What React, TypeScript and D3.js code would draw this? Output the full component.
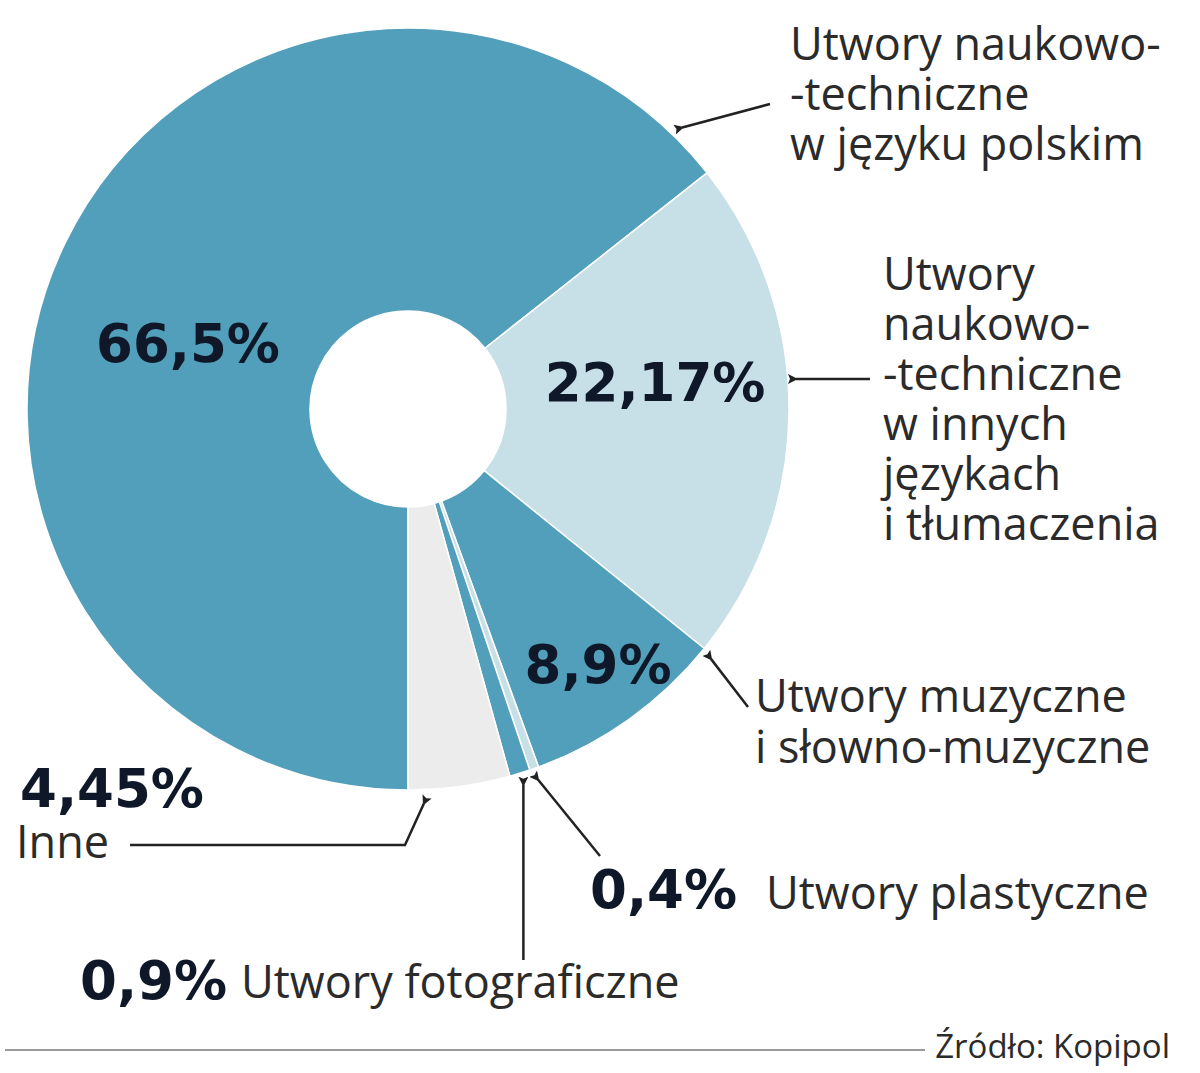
import { useEffect, useRef } from 'react'
import * as d3 from 'd3'

// shares in percent, clockwise from 6 o'clock
const categories = [
  'Utwory naukowo-techniczne w języku polskim',
  'Utwory naukowo-techniczne w innych językach i tłumaczenia',
  'Utwory muzyczne i słowno-muzyczne',
  'Utwory plastyczne',
  'Utwory fotograficzne',
  'Inne',
]
const values = [66.5, 22.17, 8.9, 0.4, 0.9, 4.45]
const valueLabels = ['66,5%', '22,17%', '8,9%', '0,4%', '0,9%', '4,45%']
const colors = ['#529fbb', '#c7dfe7', '#529fbb', '#c7dfe7', '#529fbb', '#ececec']

const W = 1200
const H = 1073

export default function App() {
  const svgRef = useRef<SVGSVGElement>(null)

  useEffect(() => {
    if (!svgRef.current) return
    const svg = d3.select(svgRef.current)
    svg.selectAll('*').remove()

    const cx = 408
    const cy = 409
    const outerR = 381
    const innerR = 98

    const labelFont = '"Open Sans", Roboto, sans-serif'
    const numFont = '"DejaVu Sans", sans-serif'
    const ink = '#2b2b2b'
    const navy = '#0e1828'
    const labelSize = 45
    const numSize = 53

    const defs = svg.append('defs')
    defs.append('marker')
      .attr('id', 'tip')
      .attr('viewBox', '0 0 10 10')
      .attr('refX', 2)
      .attr('refY', 5)
      .attr('markerWidth', 4)
      .attr('markerHeight', 4)
      .attr('orient', 'auto-start-reverse')
      .append('path')
      .attr('d', 'M0,5 L10,0 L8,5 L10,10 Z')
      .attr('fill', '#222')

    const pie = d3.pie<number>()
      .sort(null)
      .startAngle(Math.PI)
      .endAngle(3 * Math.PI)
    const arcs = pie(values)
    const arc = d3.arc<d3.PieArcDatum<number>>()
      .innerRadius(innerR)
      .outerRadius(outerR)

    const g = svg.append('g').attr('transform', `translate(${cx},${cy})`)
    g.selectAll('path.slice')
      .data(arcs)
      .enter()
      .append('path')
      .attr('class', 'slice')
      .attr('d', arc)
      .attr('fill', (_, i) => colors[i])
      .attr('stroke', '#fff')
      .attr('stroke-width', 1.5)
      .append('title')
      .text((_, i) => categories[i])

    // point on the ring edge, angle measured like d3.arc (0 = top, clockwise)
    const polar = (a: number, r: number): [number, number] => [
      cx + r * Math.sin(a),
      cy - r * Math.cos(a),
    ]

    const leader = (pts: [number, number][]) => {
      svg.append('path')
        .attr('d', d3.line()(pts))
        .attr('fill', 'none')
        .attr('stroke', '#222')
        .attr('stroke-width', 2.5)
        .attr('marker-end', 'url(#tip)')
    }

    const num = (x: number, y: number, i: number, anchor = 'start') => {
      svg.append('text')
        .attr('x', x)
        .attr('y', y)
        .attr('text-anchor', anchor)
        .attr('font-family', numFont)
        .attr('font-weight', 700)
        .attr('font-size', numSize)
        .attr('fill', navy)
        .text(valueLabels[i])
    }

    // one <text> per label, one <tspan> per line
    const multi = (x: number, y0: number, lines: string[], step = 50) => {
      const t = svg.append('text')
        .attr('x', x)
        .attr('y', y0)
        .attr('font-family', labelFont)
        .attr('font-size', labelSize)
        .attr('fill', ink)
      lines.forEach((l, k) => {
        t.append('tspan')
          .attr('x', x)
          .attr('dy', k === 0 ? 0 : step)
          .text(l)
      })
    }

    // big numbers inside the ring
    num(188, 362, 0, 'middle')
    num(655, 401, 1, 'middle')
    num(598, 683, 2, 'middle')

    // 66,5% label, top right
    multi(790, 60, ['Utwory naukowo-', '-techniczne', 'w języku polskim'])
    leader([[770, 104], polar(arcs[0].endAngle - 0.13, outerR + 12)])

    // 22,17%
    multi(883, 290, ['Utwory', 'naukowo-', '-techniczne', 'w innych', 'językach', 'i tłumaczenia'])
    leader([[870, 379], [796, 379]])

    // 8,9%
    multi(755, 712, ['Utwory muzyczne', 'i słowno-muzyczne'], 51)
    leader([[748, 707], polar(arcs[2].startAngle + 0.01, outerR + 12)])

    // 0,4%
    const a04 = (arcs[3].startAngle + arcs[3].endAngle) / 2
    leader([[600, 856], polar(a04, outerR + 12)])
    num(590, 908, 3)
    multi(766, 909, ['Utwory plastyczne'])

    // 0,9%
    const a09 = (arcs[4].startAngle + arcs[4].endAngle) / 2
    const p09 = polar(a09, outerR + 12)
    leader([[p09[0], 960], p09])
    num(80, 999, 4)
    multi(241, 998, ['Utwory fotograficzne'])

    // 4,45% Inne
    num(20, 807, 5)
    multi(16, 858, ['Inne'])
    const pInne = polar(arcs[5].endAngle - 0.04, outerR + 14)
    leader([[130, 845], [405, 845], pInne])

    // source line
    svg.append('line')
      .attr('x1', 5).attr('x2', 925)
      .attr('y1', 1050).attr('y2', 1050)
      .attr('stroke', '#9a9a9a')
      .attr('stroke-width', 2)
    svg.append('text')
      .attr('x', 1170).attr('y', 1058)
      .attr('text-anchor', 'end')
      .attr('font-family', labelFont)
      .attr('font-size', 33)
      .attr('fill', ink)
      .text('Źródło: Kopipol')
  }, [])

  return (
    <div style={{ position: 'absolute', left: 0, top: 0, background: '#fff' }}>
      <svg ref={svgRef} width={W} height={H} />
    </div>
  )
}
